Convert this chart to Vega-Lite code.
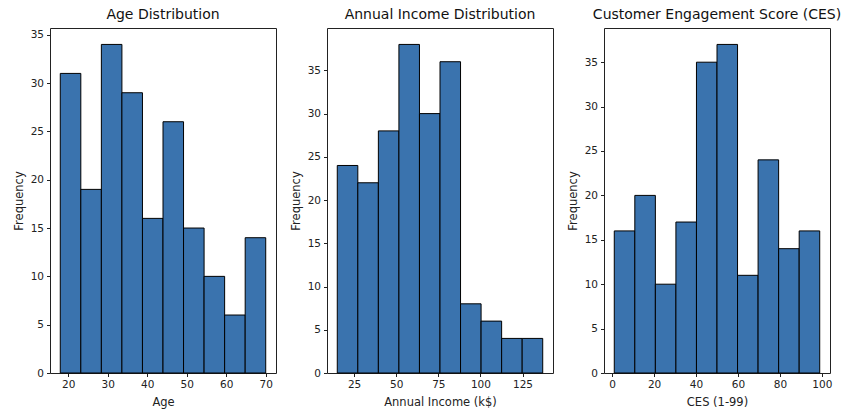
{
  "$schema": "https://vega.github.io/schema/vega-lite/v6.json",
  "padding": {"left": 12, "top": 7, "right": 5, "bottom": 5},
  "background": "white",
  "bounds": "flush",
  "spacing": 51,
  "datasets": {
    "age": [
      {"bin_start": 18, "bin_end": 23.2, "count": 31},
      {"bin_start": 23.2, "bin_end": 28.4, "count": 19},
      {"bin_start": 28.4, "bin_end": 33.6, "count": 34},
      {"bin_start": 33.6, "bin_end": 38.8, "count": 29},
      {"bin_start": 38.8, "bin_end": 44, "count": 16},
      {"bin_start": 44, "bin_end": 49.2, "count": 26},
      {"bin_start": 49.2, "bin_end": 54.4, "count": 15},
      {"bin_start": 54.4, "bin_end": 59.6, "count": 10},
      {"bin_start": 59.6, "bin_end": 64.8, "count": 6},
      {"bin_start": 64.8, "bin_end": 70, "count": 14}
    ],
    "income": [
      {"bin_start": 15, "bin_end": 27.2, "count": 24},
      {"bin_start": 27.2, "bin_end": 39.4, "count": 22},
      {"bin_start": 39.4, "bin_end": 51.6, "count": 28},
      {"bin_start": 51.6, "bin_end": 63.8, "count": 38},
      {"bin_start": 63.8, "bin_end": 76, "count": 30},
      {"bin_start": 76, "bin_end": 88.2, "count": 36},
      {"bin_start": 88.2, "bin_end": 100.4, "count": 8},
      {"bin_start": 100.4, "bin_end": 112.6, "count": 6},
      {"bin_start": 112.6, "bin_end": 124.8, "count": 4},
      {"bin_start": 124.8, "bin_end": 137, "count": 4}
    ],
    "ces": [
      {"bin_start": 1, "bin_end": 10.8, "count": 16},
      {"bin_start": 10.8, "bin_end": 20.6, "count": 20},
      {"bin_start": 20.6, "bin_end": 30.4, "count": 10},
      {"bin_start": 30.4, "bin_end": 40.2, "count": 17},
      {"bin_start": 40.2, "bin_end": 50, "count": 35},
      {"bin_start": 50, "bin_end": 59.8, "count": 37},
      {"bin_start": 59.8, "bin_end": 69.6, "count": 11},
      {"bin_start": 69.6, "bin_end": 79.4, "count": 24},
      {"bin_start": 79.4, "bin_end": 89.2, "count": 14},
      {"bin_start": 89.2, "bin_end": 99, "count": 16}
    ]
  },
  "hconcat": [
    {
      "width": 226, "height": 345,
      "title": "Age Distribution",
      "data": {"name": "age"},
      "mark": {"type": "bar", "fill": "#3a73ae", "stroke": "black", "strokeWidth": 1},
      "encoding": {
        "x": {"field": "bin_start", "type": "quantitative", "title": "Age",
              "scale": {"domain": [15.4, 72.6], "nice": false, "zero": false},
              "axis": {"values": [20, 30, 40, 50, 60, 70]}},
        "x2": {"field": "bin_end"},
        "y": {"field": "count", "type": "quantitative", "title": "Frequency",
              "scale": {"domain": [0, 35.7], "nice": false},
              "axis": {"values": [0, 5, 10, 15, 20, 25, 30, 35]}},
        "y2": {"datum": 0}
      }
    },
    {
      "width": 226, "height": 345,
      "title": "Annual Income Distribution",
      "data": {"name": "income"},
      "mark": {"type": "bar", "fill": "#3a73ae", "stroke": "black", "strokeWidth": 1},
      "encoding": {
        "x": {"field": "bin_start", "type": "quantitative", "title": "Annual Income (k$)",
              "scale": {"domain": [8.9, 143.1], "nice": false, "zero": false},
              "axis": {"values": [25, 50, 75, 100, 125]}},
        "x2": {"field": "bin_end"},
        "y": {"field": "count", "type": "quantitative", "title": "Frequency",
              "scale": {"domain": [0, 39.9], "nice": false},
              "axis": {"values": [0, 5, 10, 15, 20, 25, 30, 35]}},
        "y2": {"datum": 0}
      }
    },
    {
      "width": 226, "height": 345,
      "title": "Customer Engagement Score (CES)",
      "data": {"name": "ces"},
      "mark": {"type": "bar", "fill": "#3a73ae", "stroke": "black", "strokeWidth": 1},
      "encoding": {
        "x": {"field": "bin_start", "type": "quantitative", "title": "CES (1-99)",
              "scale": {"domain": [-3.9, 103.9], "nice": false, "zero": false},
              "axis": {"values": [0, 20, 40, 60, 80, 100]}},
        "x2": {"field": "bin_end"},
        "y": {"field": "count", "type": "quantitative", "title": "Frequency",
              "scale": {"domain": [0, 38.85], "nice": false},
              "axis": {"values": [0, 5, 10, 15, 20, 25, 30, 35]}},
        "y2": {"datum": 0}
      }
    }
  ],
  "config": {
    "font": "DejaVu Sans",
    "view": {"stroke": "#222", "strokeWidth": 1},
    "axis": {
      "grid": false, "domain": false,
      "tickColor": "#222", "tickSize": 3.5, "labelPadding": 3,
      "labelFont": "DejaVu Sans", "labelFontSize": 10.5, "labelColor": "#222",
      "titleFont": "DejaVu Sans", "titleFontSize": 11.5, "titleFontWeight": "normal",
      "titleColor": "#222", "titlePadding": 6
    },
    "title": {"font": "DejaVu Sans", "fontSize": 14, "fontWeight": "normal", "color": "#111", "offset": 6}
  }
}
